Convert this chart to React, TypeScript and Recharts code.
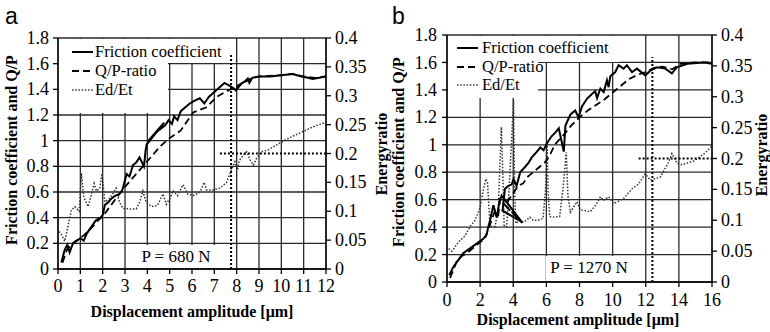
import React from 'react';
import { LineChart, Line, XAxis, YAxis, CartesianGrid, ReferenceLine } from 'recharts';

// ---------- Panel a (P = 680 N) ----------
const aFrictionX = [0.15,0.3,0.42,0.52,0.67,0.85,1.0,1.15,1.3,1.5,1.7,1.9,2.0,2.1,2.25,2.4,2.55,2.7,2.85,2.92,3.07,3.2,3.36,3.5,3.65,3.85,3.92,3.97,4.75,4.05,4.5,4.8,4.95,5.1,5.2,5.35,5.5,5.7,5.9,6.1,6.35,6.55,6.75,7.0,7.2,7.45,7.65,7.85,7.97,8.07,8.35,8.5,8.57,8.7,9.0,9.5,10.0,10.5,10.9,11.2,11.4,11.7,12.0];
const aFrictionY = [0.05,0.15,0.19,0.13,0.2,0.22,0.24,0.22,0.28,0.33,0.38,0.4,0.42,0.5,0.52,0.55,0.57,0.58,0.6,0.64,0.74,0.72,0.81,0.83,0.87,0.8,0.92,0.97,1.14,1.0,1.08,1.12,1.16,1.13,1.19,1.16,1.23,1.26,1.29,1.31,1.33,1.29,1.34,1.38,1.41,1.45,1.43,1.41,1.39,1.43,1.46,1.485,1.45,1.49,1.5,1.5,1.51,1.52,1.5,1.49,1.48,1.49,1.5];

const aRatioX = [0.2,0.4,0.6,0.8,1.0,1.2,1.5,1.8,2.0,2.3,2.6,2.9,3.2,3.5,3.8,4.0,4.3,4.6,5.0,5.5,6.05,6.35,6.65,7.1,7.5,7.85,8.0,8.2,8.5,8.7,9.0,10.0,10.5,11.0,11.5,12.0];
const aRatioY = [0.05,0.15,0.19,0.22,0.24,0.27,0.32,0.38,0.41,0.48,0.55,0.62,0.68,0.74,0.8,0.84,0.9,0.96,1.02,1.08,1.22,1.24,1.26,1.34,1.38,1.41,1.4,1.44,1.47,1.49,1.5,1.51,1.52,1.5,1.49,1.5];

const aEnergyX = [0.05,0.15,0.3,0.45,0.6,0.75,0.95,1.05,1.15,1.35,1.5,1.62,1.72,1.87,1.97,2.1,2.3,2.45,2.6,2.75,2.9,3.2,3.5,3.65,3.8,3.95,4.2,4.45,4.7,4.85,5.05,5.15,5.35,5.6,5.8,6.05,6.35,6.55,6.65,6.95,7.25,7.55,7.75,7.92,8.04,8.12,8.3,8.45,8.6,8.75,8.9,9.1,9.4,9.8,10.2,10.8,11.4,12.0];
const aEnergyY = [0.065,0.06,0.048,0.075,0.102,0.108,0.1,0.166,0.125,0.108,0.13,0.148,0.135,0.14,0.165,0.116,0.122,0.13,0.14,0.116,0.105,0.104,0.104,0.115,0.135,0.115,0.108,0.11,0.13,0.112,0.125,0.136,0.127,0.146,0.13,0.127,0.133,0.15,0.137,0.137,0.14,0.15,0.17,0.186,0.172,0.188,0.197,0.203,0.189,0.18,0.192,0.203,0.206,0.215,0.224,0.235,0.246,0.254];

const aXTicks = [0,1,2,3,4,5,6,7,8,9,10,11,12];
const aVLine = { x: 7.75, top: 1.67 };
const aHLine = { from: 7.25, to: 12, y: 0.2 };
const aLoadLabel = 'P = 680 N';

// ---------- Panel b (P = 1270 N) ----------
const bFrictionX = [0.14,0.38,0.68,0.98,1.39,1.79,2.19,2.39,2.49,2.6,2.8,3.0,3.16,3.3,4.5,3.35,3.5,3.7,3.9,4.02,4.2,4.42,4.72,4.93,5.13,5.43,5.63,5.83,6.03,6.3,6.55,6.75,7.05,7.15,7.45,7.74,7.94,8.15,8.45,8.75,8.95,9.06,9.26,9.46,9.66,9.76,9.86,10.16,10.36,10.66,10.86,11.17,11.47,11.97,12.28,12.68,13.18,13.58,13.88,14.5,15.5,16.0];
const bFrictionY = [0.05,0.11,0.16,0.21,0.245,0.28,0.315,0.345,0.4,0.45,0.56,0.47,0.58,0.63,0.44,0.52,0.68,0.7,0.71,0.75,0.7,0.8,0.84,0.87,0.91,0.95,0.98,0.96,1.01,1.06,1.09,1.12,0.95,1.14,1.22,1.25,1.2,1.28,1.335,1.37,1.39,1.34,1.41,1.385,1.47,1.42,1.5,1.53,1.58,1.555,1.58,1.53,1.555,1.506,1.54,1.565,1.555,1.52,1.565,1.59,1.6,1.59];

const bRatioX = [0.18,0.4,0.58,0.9,1.2,1.5,1.8,2.3,2.6,2.9,3.1,3.2,4.55,3.5,3.9,4.3,4.6,4.9,5.4,5.9,6.2,6.5,7.1,7.5,8.0,8.5,9.0,9.5,10.0,10.5,11.0,11.5,12.0,12.5,13.0,13.6,14.1,15.0,16.0];
const bRatioY = [0.03,0.09,0.15,0.19,0.21,0.24,0.27,0.32,0.42,0.52,0.49,0.6,0.43,0.56,0.63,0.7,0.72,0.77,0.82,0.87,0.92,1.0,1.08,1.14,1.2,1.25,1.29,1.33,1.38,1.43,1.48,1.51,1.53,1.56,1.57,1.55,1.59,1.6,1.6];

const bEnergyX = [0.1,0.3,0.7,1.1,1.4,1.7,2.0,2.2,2.35,2.45,2.6,2.9,3.1,3.28,3.4,3.45,3.6,3.75,4.02,4.08,4.15,4.4,4.6,4.8,5.0,5.2,5.5,5.8,5.95,6.04,6.1,6.2,6.5,6.8,7.0,7.2,7.3,7.45,7.85,8.05,8.65,9.0,9.26,9.45,9.76,10.06,10.66,11.17,11.57,11.97,12.28,12.88,13.38,13.58,13.9,14.2,14.9,15.5,16.0];
const bEnergyY = [0.054,0.05,0.065,0.075,0.09,0.1,0.121,0.15,0.167,0.16,0.09,0.09,0.12,0.251,0.15,0.09,0.09,0.15,0.295,0.15,0.095,0.1,0.097,0.1,0.105,0.1,0.1,0.103,0.15,0.227,0.15,0.106,0.105,0.106,0.15,0.21,0.14,0.113,0.13,0.117,0.114,0.125,0.138,0.132,0.138,0.127,0.135,0.151,0.159,0.175,0.165,0.17,0.194,0.208,0.192,0.19,0.196,0.207,0.22];

const bXTicks = [0,2,4,6,8,10,12,14,16];
const bVLine = { x: 12.4, top: 1.64 };
const bHLine = { from: 11.57, to: 16, y: 0.2 };
const bLoadLabel = 'P = 1270 N';

// ---------- shared ----------
const leftTicks = [0,0.2,0.4,0.6,0.8,1,1.2,1.4,1.6,1.8];
const rightTicks = [0,0.05,0.1,0.15,0.2,0.25,0.3,0.35,0.4];
const seriesNames = ['Friction coefficient', 'Q/P-ratio', 'Ed/Et'];
const xTitle = 'Displacement amplitude [μm]';
const leftTitle = 'Friction coefficient and Q/P';
const rightTitle = 'Energyratio';

const zip = (xs: number[], ys: number[]) => xs.map((x, i) => ({ x, y: ys[i] }));

const SERIF = 'Liberation Serif';
const SANS = '"Liberation Sans", Arial, sans-serif';
const DOT_COLOR = '#333';
const DOT_DASH = '1.5 1.7';
const TICK_FS = 18;

const XTick = (props: any) => (
  <text x={props.x} y={props.y} dy="0.71em" textAnchor="middle" fontFamily={SERIF} fontSize={TICK_FS} fill="#000">
    {props.payload.value}
  </text>
);
const YTick = (props: any) => (
  <text x={props.x} y={props.y} dy="0.34em" textAnchor={props.textAnchor} fontFamily={SERIF} fontSize={TICK_FS} fill="#000">
    {props.payload.value}
  </text>
);

type PanelProps = {
  left: number; width: number;
  mTop: number; mRight: number; mBottom: number;
  yLeftWidth: number; xTickMargin: number; yTickMargin: number;
  xMax: number; xTicks: number[];
  fric: { x: number; y: number }[];
  ratio: { x: number; y: number }[];
  energy: { x: number; y: number }[];
  vLine: { x: number; top: number };
  hLine: { from: number; to: number; y: number };
};

function Panel(p: PanelProps) {
  return (
    <div style={{ position: 'absolute', left: p.left, top: 0 }}>
      <LineChart width={p.width} height={332} margin={{ top: p.mTop, right: p.mRight, bottom: p.mBottom, left: 0 }}>
        <CartesianGrid yAxisId="left" stroke="#2a2a2a" strokeWidth={1.3} />
        <XAxis dataKey="x" type="number" domain={[0, p.xMax]} ticks={p.xTicks} allowDataOverflow
          stroke="#000" strokeWidth={1.3} tickSize={5} tickMargin={p.xTickMargin} tick={<XTick />} height={30} interval={0} />
        <YAxis yAxisId="left" type="number" domain={[0, 1.8]} ticks={leftTicks} allowDataOverflow
          stroke="#000" strokeWidth={1.3} tickSize={5} tickMargin={p.yTickMargin} tick={<YTick />} width={p.yLeftWidth} interval={0} />
        <YAxis yAxisId="right" orientation="right" type="number" domain={[0, 0.4]} ticks={rightTicks} allowDataOverflow
          stroke="#000" strokeWidth={1.3} tickSize={5} tickMargin={4} tick={<YTick />} width={50} interval={0} />
        <Line yAxisId="right" data={p.energy} dataKey="y" stroke={DOT_COLOR} strokeWidth={1.5} strokeDasharray={DOT_DASH}
          dot={false} activeDot={false} isAnimationActive={false} type="linear" />
        <Line yAxisId="left" data={p.ratio} dataKey="y" stroke="#000" strokeWidth={1.8} strokeDasharray="7 4"
          dot={false} activeDot={false} isAnimationActive={false} type="linear" />
        <Line yAxisId="left" data={p.fric} dataKey="y" stroke="#000" strokeWidth={2}
          dot={false} activeDot={false} isAnimationActive={false} type="linear" />
        <ReferenceLine yAxisId="left" segment={[{ x: p.vLine.x, y: 0 }, { x: p.vLine.x, y: p.vLine.top }]}
          stroke="#000" strokeWidth={2} strokeDasharray="2 2" />
        <ReferenceLine yAxisId="right" segment={[{ x: p.hLine.from, y: p.hLine.y }, { x: p.hLine.to, y: p.hLine.y }]}
          stroke="#000" strokeWidth={2} strokeDasharray="2 2" />
      </LineChart>
    </div>
  );
}

const box = (l: number, t: number, w: number, h: number): React.CSSProperties => ({
  position: 'absolute', left: l, top: t, width: w, height: h, background: '#fff',
});

function LegendRows({ sx, tx, ys }: { sx: number; tx: number; ys: number[] }) {
  const dashes = [undefined, '7 4', DOT_DASH];
  const colors = ['#000', '#000', DOT_COLOR];
  const widths = [2, 1.8, 1.5];
  return (
    <>
      {seriesNames.map((n, i) => (
        <React.Fragment key={n}>
          <svg style={{ position: 'absolute', left: sx, top: ys[i] - 3, overflow: 'visible' }} width={21} height={6}>
            <line x1={0} y1={3} x2={21} y2={3} stroke={colors[i]} strokeWidth={widths[i]} strokeDasharray={dashes[i]} />
          </svg>
          <div style={{ position: 'absolute', left: tx, top: ys[i] - 9, fontFamily: SERIF, fontSize: 16.5, lineHeight: '18px', whiteSpace: 'nowrap', color: '#000' }}>{n}</div>
        </React.Fragment>
      ))}
    </>
  );
}

const vTitle = (cx: number, cy: number): React.CSSProperties => ({
  position: 'absolute', left: cx - 150, top: cy - 8, width: 300, height: 16, lineHeight: '16px', textAlign: 'center',
  transform: 'rotate(-90deg)', transformOrigin: '150px 8px', fontFamily: SERIF, fontWeight: 'bold', fontSize: 16, whiteSpace: 'nowrap', color: '#000',
});

const hTitle = (cx: number, cy: number): React.CSSProperties => ({
  position: 'absolute', left: cx - 150, top: cy - 8, width: 300, height: 16, lineHeight: '16px', textAlign: 'center',
  fontFamily: SERIF, fontWeight: 'bold', fontSize: 16, whiteSpace: 'nowrap', color: '#000',
});

export default function App() {
  return (
    <div style={{ position: 'absolute', left: 0, top: 0, width: 770, height: 332, background: '#fff', overflow: 'hidden' }}>
      <Panel left={0} width={390} mTop={38} mRight={14} mBottom={33} yLeftWidth={58} xTickMargin={5} yTickMargin={4}
        xMax={12} xTicks={aXTicks} fric={zip(aFrictionX, aFrictionY)} ratio={zip(aRatioX, aRatioY)} energy={zip(aEnergyX, aEnergyY)}
        vLine={aVLine} hLine={aHLine} />
      <Panel left={385} width={385} mTop={35} mRight={8} mBottom={20} yLeftWidth={62} xTickMargin={6} yTickMargin={5}
        xMax={16} xTicks={bXTicks} fric={zip(bFrictionX, bFrictionY)} ratio={zip(bRatioX, bRatioY)} energy={zip(bEnergyX, bEnergyY)}
        vLine={bVLine} hLine={bHLine} />

      {/* panel a legend */}
      <div style={box(59, 39, 168, 24)} />
      <div style={box(59, 63, 109, 50)} />
      <LegendRows sx={72} tx={95} ys={[52, 71, 90]} />
      <div style={box(134, 245, 83, 23)} />
      <div style={{ position: 'absolute', left: 126, top: 248, width: 100, textAlign: 'center', fontFamily: SERIF, fontSize: 17, lineHeight: '18px', whiteSpace: 'nowrap' }}>{aLoadLabel}</div>

      {/* panel b legend */}
      <div style={box(448, 36, 172, 26)} />
      <div style={box(448, 62, 90, 36)} />
      <LegendRows sx={457} tx={482} ys={[48, 67, 85]} />
      <div style={box(546, 256, 88, 25)} />
      <div style={{ position: 'absolute', left: 529, top: 259, width: 120, textAlign: 'center', fontFamily: SERIF, fontSize: 17, lineHeight: '18px', whiteSpace: 'nowrap' }}>{bLoadLabel}</div>

      {/* titles */}
      <div style={vTitle(12, 150)}>{leftTitle}</div>
      <div style={vTitle(382, 154)}>{rightTitle}</div>
      <div style={hTitle(192, 312)}>{xTitle}</div>
      <div style={vTitle(399, 152)}>{leftTitle}</div>
      <div style={vTitle(762, 155)}>{rightTitle}</div>
      <div style={hTitle(578, 320)}>{xTitle}</div>

      <div style={{ position: 'absolute', left: 5, top: 2, fontFamily: SANS, fontSize: 23, lineHeight: '28px' }}>a</div>
      <div style={{ position: 'absolute', left: 392, top: 2, fontFamily: SANS, fontSize: 23, lineHeight: '28px' }}>b</div>
    </div>
  );
}
